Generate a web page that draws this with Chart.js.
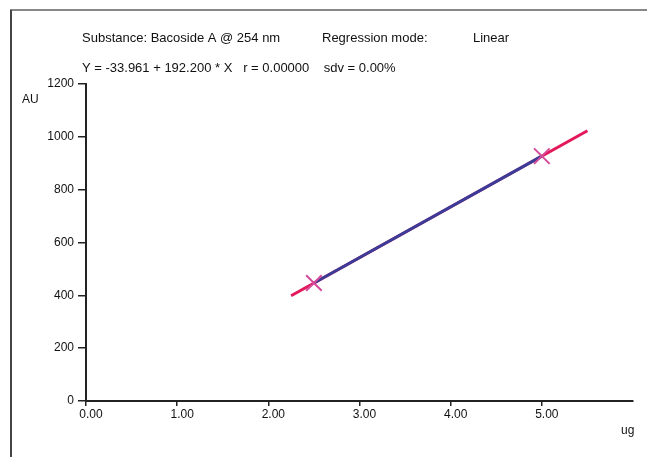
<!DOCTYPE html>
<html>
<head>
<meta charset="utf-8">
<script src="https://cdn.jsdelivr.net/npm/chart.js@4/dist/chart.umd.min.js"></script>
<style>
  html, body { margin: 0; padding: 0; background: #fff; }
  #wrap { width: 647px; height: 457px; position: relative; }
</style>
</head>
<body>
<div id="wrap"><canvas id="calib-chart"></canvas></div>
<script>
// calibration points (amount in ug, peak area in AU)
var pointX = [2.5, 5.0];
var pointY = [446.5, 927.0];
// extended regression line ends
var fitX = [2.25, 5.5];
var fitY = [398.5, 1023.1];
var xTicks = [0, 1, 2, 3, 4, 5];
var yTicks = [0, 200, 400, 600, 800, 1000, 1200];

var headerLines = [
  { text: "Substance: Bacoside A @ 254 nm", x: 82, y: 38 },
  { text: "Regression mode:", x: 322, y: 38 },
  { text: "Linear", x: 473, y: 38 },
  { text: "Y = -33.961 + 192.200 * X   r = 0.00000    sdv = 0.00%", x: 82, y: 68 }
];

function toXY(xs, ys) {
  return xs.map(function (v, i) { return { x: v, y: ys[i] }; });
}

var frameAndText = {
  id: 'frameAndText',
  beforeDraw: function (chart) {
    var c = chart.ctx;
    c.save();
    c.fillStyle = '#fff';
    c.fillRect(0, 0, chart.width, chart.height);
    c.lineWidth = 2;
    c.strokeStyle = '#888';
    c.beginPath(); c.moveTo(10, 10); c.lineTo(chart.width, 10); c.stroke();
    c.strokeStyle = '#444';
    c.beginPath(); c.moveTo(11, 10); c.lineTo(11, chart.height); c.stroke();
    c.restore();
  },
  afterDraw: function (chart) {
    var c = chart.ctx;
    c.save();
    c.fillStyle = '#111';
    c.font = '13px "Liberation Sans", Arial, sans-serif';
    c.textBaseline = 'middle';
    c.textAlign = 'left';
    headerLines.forEach(function (h) { c.fillText(h.text, h.x, h.y); });
    c.font = '12px "Liberation Sans", Arial, sans-serif';
    c.fillText('AU', 22, 100);
    c.fillText('ug', 621, 431);
    c.restore();
  }
};

new Chart(document.getElementById('calib-chart'), {
  type: 'scatter',
  data: {
    datasets: [
      {
        label: 'fit',
        data: toXY(fitX, fitY),
        showLine: true,
        borderColor: '#e3185a',
        borderWidth: 3,
        pointRadius: 0,
        order: 3
      },
      {
        label: 'between standards',
        data: toXY(pointX, pointY),
        showLine: true,
        borderColor: '#3b3b98',
        borderWidth: 3,
        pointRadius: 0,
        order: 2
      },
      {
        label: 'standards',
        data: toXY(pointX, pointY),
        showLine: false,
        pointStyle: 'crossRot',
        pointRadius: 11,
        borderColor: '#d64c9a',
        borderWidth: 2,
        order: 1
      }
    ]
  },
  options: {
    responsive: true,
    maintainAspectRatio: false,
    animation: false,
    layout: { padding: { top: 84, right: 14, left: 0, bottom: 0 } },
    plugins: {
      legend: { display: false },
      tooltip: { enabled: false }
    },
    scales: {
      x: {
        type: 'linear',
        min: 0,
        max: 6,
        afterBuildTicks: function (scale) {
          scale.ticks = xTicks.map(function (v) { return { value: v }; });
        },
        afterFit: function (scale) { scale.height = 56; },
        grid: { drawOnChartArea: false, drawTicks: true, tickLength: 5, color: '#222', lineWidth: 1.5 },
        border: { display: true, color: '#222', width: 2 },
        ticks: {
          padding: 1,
          labelOffset: 5,
          color: '#111',
          font: { family: '"Liberation Sans", Arial, sans-serif', size: 12 },
          callback: function (v) { return Number(v).toFixed(2); }
        }
      },
      y: {
        type: 'linear',
        min: 0,
        max: 1200,
        afterBuildTicks: function (scale) {
          scale.ticks = yTicks.map(function (v) { return { value: v }; });
        },
        afterFit: function (scale) { scale.width = 86; },
        grid: { drawOnChartArea: false, drawTicks: true, tickLength: 8, color: '#222', lineWidth: 1.5 },
        border: { display: true, color: '#222', width: 2 },
        ticks: {
          padding: 4,
          color: '#111',
          font: { family: '"Liberation Sans", Arial, sans-serif', size: 12 },
          callback: function (v) { return String(v); }
        }
      }
    }
  },
  plugins: [frameAndText]
});
</script>
</body>
</html>
